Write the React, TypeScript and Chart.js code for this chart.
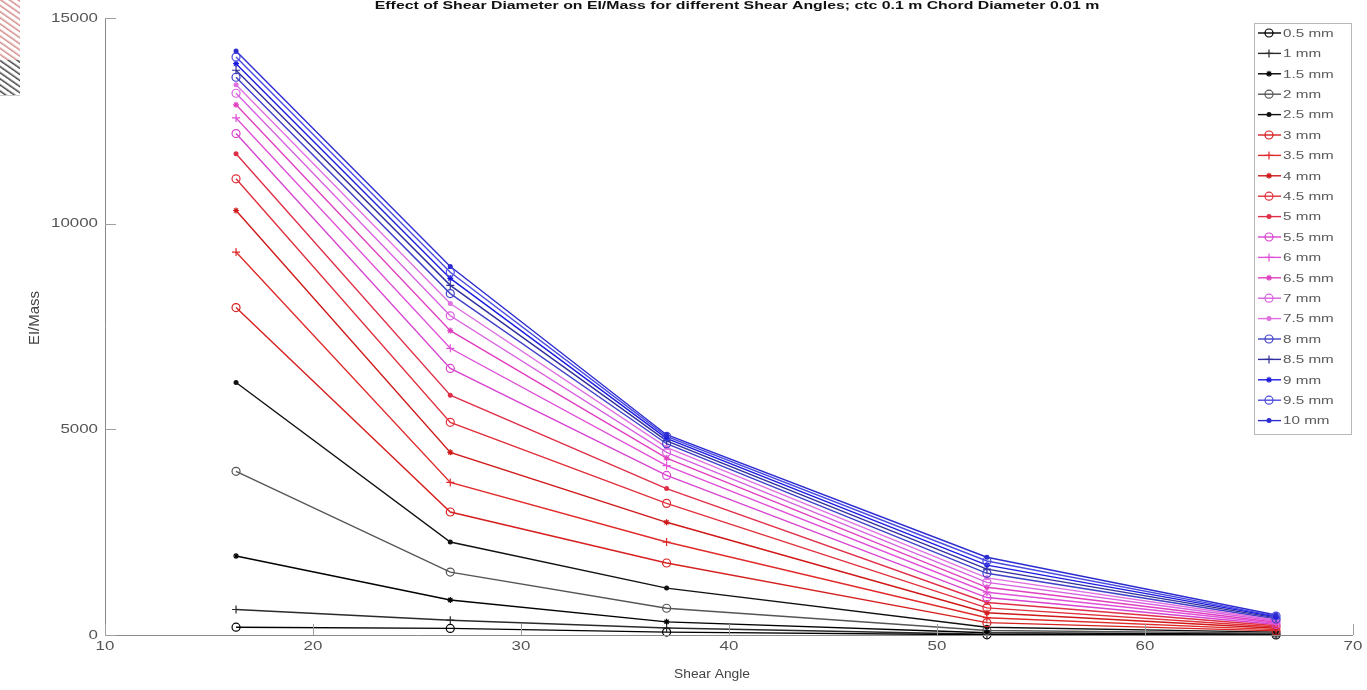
import React, { useEffect, useRef } from 'react';
import { Chart, registerables } from 'chart.js';
Chart.register(...registerables);

const titleText = 'Effect of Shear Diameter on EI/Mass for different Shear Angles; ctc 0.1 m Chord Diameter 0.01 m';
const xTitle = 'Shear Angle';
const yTitle = 'EI/Mass';

const shearAngles = [16.3, 26.6, 37.0, 52.4, 66.3];
const diameterLabels = ['0.5 mm', '1 mm', '1.5 mm', '2 mm', '2.5 mm', '3 mm', '3.5 mm', '4 mm', '4.5 mm', '5 mm', '5.5 mm', '6 mm', '6.5 mm', '7 mm', '7.5 mm', '8 mm', '8.5 mm', '9 mm', '9.5 mm', '10 mm'];

const d05 = [190, 160, 70, 5, 2];
const d10 = [620, 360, 170, 20, 8];
const d15 = [1920, 850, 320, 55, 22];
const d20 = [3980, 1530, 650, 110, 45];
const d25 = [6140, 2260, 1140, 190, 70];
const d30 = [7960, 2990, 1750, 300, 100];
const d35 = [9310, 3710, 2260, 420, 130];
const d40 = [10320, 4440, 2740, 540, 165];
const d45 = [11090, 5170, 3200, 660, 195];
const d50 = [11700, 5830, 3560, 790, 225];
const d55 = [12190, 6480, 3880, 910, 255];
const d60 = [12570, 6970, 4120, 1040, 285];
const d65 = [12890, 7400, 4300, 1160, 310];
const d70 = [13170, 7760, 4440, 1280, 340];
const d75 = [13380, 8060, 4560, 1390, 365];
const d80 = [13560, 8300, 4650, 1500, 390];
const d85 = [13730, 8500, 4720, 1600, 415];
const d90 = [13890, 8670, 4780, 1700, 440];
const d95 = [14050, 8820, 4830, 1800, 460];
const d100 = [14200, 8960, 4870, 1890, 485];
const seriesValues = [d05, d10, d15, d20, d25, d30, d35, d40, d45, d50, d55, d60, d65, d70, d75, d80, d85, d90, d95, d100];

const yTicks = [0, 5000, 10000, 15000];
const xTicks = [10, 20, 30, 40, 50, 60, 70];

const seriesColors = [
  '#000000', '#2a2a2a', '#000000', '#555555', '#111111',
  '#d62020', '#e02a2a', '#d01818', '#e0303c', '#e03048',
  '#d844d0', '#e050d8', '#e040c0', '#d860e0', '#e070e0',
  '#4040c8', '#30309c', '#1c1ce0', '#4a4ae0', '#2c2cd0',
];
const markerCycle = ['circle', 'cross', 'star', 'circle', 'circle'];
const markerFilled = [false, false, true, false, true];
const markerRadius = [4, 4, 3, 4, 2.5];

const PLOT = { left: 105, right: 1353, top: 18, bottom: 635 };
const FONT = '"Liberation Sans", Arial, sans-serif';

function stretchText(ctx: CanvasRenderingContext2D, text: string, x: number, y: number, sx: number, align: CanvasTextAlign) {
  ctx.save();
  ctx.translate(x, y);
  ctx.scale(sx, 1);
  ctx.textAlign = align;
  ctx.fillText(text, 0, 0);
  ctx.restore();
}

function drawMarker(ctx: CanvasRenderingContext2D, idx: number, x: number, y: number, color: string) {
  const k = idx % 5;
  const r = markerRadius[k];
  ctx.save();
  ctx.strokeStyle = color;
  ctx.fillStyle = color;
  ctx.lineWidth = 1.2;
  if (markerCycle[k] === 'circle') {
    ctx.beginPath();
    ctx.arc(x, y, r, 0, Math.PI * 2);
    if (markerFilled[k]) ctx.fill(); else ctx.stroke();
  } else if (markerCycle[k] === 'cross') {
    ctx.beginPath();
    ctx.moveTo(x - r, y); ctx.lineTo(x + r, y);
    ctx.moveTo(x, y - r); ctx.lineTo(x, y + r);
    ctx.stroke();
  } else {
    ctx.beginPath();
    ctx.moveTo(x - r, y); ctx.lineTo(x + r, y);
    ctx.moveTo(x, y - r); ctx.lineTo(x, y + r);
    ctx.moveTo(x - r * 0.7, y - r * 0.7); ctx.lineTo(x + r * 0.7, y + r * 0.7);
    ctx.moveTo(x - r * 0.7, y + r * 0.7); ctx.lineTo(x + r * 0.7, y - r * 0.7);
    ctx.stroke();
  }
  ctx.restore();
}

const decorPlugin = {
  id: 'decor',
  afterDraw(chart: any) {
    const ctx: CanvasRenderingContext2D = chart.ctx;
    const xs = chart.scales.x;
    const ys = chart.scales.y;
    const area = chart.chartArea;
    ctx.save();
    ctx.strokeStyle = '#8a8a8a';
    ctx.lineWidth = 1;
    ctx.beginPath();
    ctx.moveTo(area.left + 0.5, area.top);
    ctx.lineTo(area.left + 0.5, area.bottom + 0.5);
    ctx.lineTo(area.right, area.bottom + 0.5);
    ctx.stroke();
    ctx.strokeStyle = '#a0a0a0';
    ctx.beginPath();
    xTicks.forEach((v) => {
      const px = Math.round(xs.getPixelForValue(v)) + 0.5;
      ctx.moveTo(px, area.bottom);
      ctx.lineTo(px, area.bottom - 11);
    });
    yTicks.forEach((v) => {
      const py = Math.round(ys.getPixelForValue(v)) + 0.5;
      ctx.moveTo(area.left, py);
      ctx.lineTo(area.left + 11, py);
    });
    ctx.stroke();
    ctx.fillStyle = '#555555';
    ctx.font = `13px ${FONT}`;
    ctx.textBaseline = 'top';
    xTicks.forEach((v) => {
      stretchText(ctx, String(v), xs.getPixelForValue(v), area.bottom + 5, 1.3, 'center');
    });
    ctx.textBaseline = 'middle';
    yTicks.forEach((v) => {
      stretchText(ctx, String(v), area.left - 7, ys.getPixelForValue(v), 1.3, 'right');
    });
    ctx.fillStyle = '#444444';
    ctx.font = `12px ${FONT}`;
    ctx.textBaseline = 'middle';
    stretchText(ctx, xTitle, 712, 675, 1.15, 'center');
    ctx.save();
    ctx.translate(35, 318);
    ctx.rotate(-Math.PI / 2);
    ctx.font = `12px ${FONT}`;
    ctx.scale(1.25, 1.2);
    ctx.textAlign = 'center';
    ctx.fillText(yTitle, 0, 0);
    ctx.restore();
    ctx.fillStyle = '#111111';
    ctx.font = `bold 11px ${FONT}`;
    ctx.textBaseline = 'middle';
    stretchText(ctx, titleText, 737, 6, 1.44, 'center');
    const lx = 1254, ly = 23, lw = 97, step = 20.4;
    const lh = step * diameterLabels.length + 3;
    ctx.fillStyle = '#ffffff';
    ctx.fillRect(lx, ly, lw, lh);
    ctx.strokeStyle = '#b8b8b8';
    ctx.strokeRect(lx + 0.5, ly + 0.5, lw, lh);
    ctx.font = `10.5px ${FONT}`;
    diameterLabels.forEach((lab, i) => {
      const cy = ly + 10 + i * step;
      const c = seriesColors[i];
      ctx.strokeStyle = c;
      ctx.lineWidth = 1.4;
      ctx.beginPath();
      ctx.moveTo(lx + 4, cy);
      ctx.lineTo(lx + 27, cy);
      ctx.stroke();
      drawMarker(ctx, i, lx + 15, cy, c);
      ctx.fillStyle = '#5a5a5a';
      ctx.textBaseline = 'middle';
      stretchText(ctx, lab, lx + 29, cy + 1, 1.45, 'left');
    });
    ctx.restore();
  },
};

const markerPlugin = {
  id: 'mk',
  afterDatasetsDraw(chart: any) {
    const ctx: CanvasRenderingContext2D = chart.ctx;
    chart.data.datasets.forEach((ds: any, i: number) => {
      const meta = chart.getDatasetMeta(i);
      meta.data.forEach((pt: any) => {
        drawMarker(ctx, i, pt.x, pt.y, seriesColors[i]);
      });
    });
  },
};

export default function App() {
  const ref = useRef<HTMLCanvasElement | null>(null);
  useEffect(() => {
    if (!ref.current) return;
    const datasets = seriesValues.map((vals, i) => ({
      label: diameterLabels[i],
      data: vals.map((v, j) => ({ x: shearAngles[j], y: v })),
      borderColor: seriesColors[i],
      backgroundColor: seriesColors[i],
      borderWidth: 1.4,
      pointRadius: 0,
      tension: 0,
      fill: false,
    }));
    const chart = new Chart(ref.current, {
      type: 'line',
      data: { datasets },
      options: {
        responsive: false,
        animation: false,
        layout: { padding: { left: 0, right: 1367 - PLOT.right, top: PLOT.top, bottom: 0 } },
        plugins: { legend: { display: false }, tooltip: { enabled: false }, title: { display: false } },
        scales: {
          x: {
            type: 'linear', min: 10, max: 70,
            grid: { display: false },
            border: { display: false },
            ticks: { display: false },
            afterFit: (s: any) => { s.height = 690 - PLOT.bottom; },
          },
          y: {
            type: 'linear', min: 0, max: 15000,
            grid: { display: false },
            border: { display: false },
            ticks: { display: false },
            afterFit: (s: any) => { s.width = PLOT.left; },
          },
        },
      },
      plugins: [markerPlugin, decorPlugin],
    });
    return () => chart.destroy();
  }, []);
  return (
    <div style={{ position: 'absolute', left: 0, top: 0, width: 1367, height: 690, background: '#fff' }}>
      <canvas ref={ref} width={1367} height={690} style={{ display: 'block' }} />
      <div style={{ position: 'absolute', left: 0, top: 0, width: 20, height: 95, background: 'repeating-linear-gradient(35deg, #ffffff 0px, #ffffff 2px, #d08080 3px, #ffffff 5px)', opacity: 0.9 }} />
      <div style={{ position: 'absolute', left: 0, top: 60, width: 20, height: 35, background: 'repeating-linear-gradient(35deg, #ffffff 0px, #ffffff 2px, #444 3px, #ffffff 5px)' }} />
      <div style={{ position: 'absolute', left: 0, top: 95, width: 20, height: 1, background: '#cccccc' }} />
    </div>
  );
}
